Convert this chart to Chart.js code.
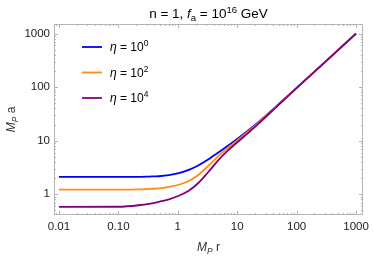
<!DOCTYPE html>
<html><head><meta charset="utf-8">
<script src="https://cdn.jsdelivr.net/npm/chart.js@4"></script>
<style>html,body{margin:0;padding:0;background:#fff}#wrap{width:374px;height:258px;position:relative}</style>
</head><body><div id="wrap"><canvas id="c" width="374" height="258"></canvas></div>
<script>
// Data
const rValues   = [0.01, 0.1, 0.22, 0.33, 0.48, 0.71, 1.04, 1.53, 2.24, 3.29, 4.82, 7.08, 10.4, 15.3, 22.4, 48.3, 104, 331, 1000];
const aEta1     = [2.106, 2.106, 2.115, 2.142, 2.17, 2.265, 2.469, 2.846, 3.484, 4.51, 6.017, 8.135, 11.14, 15.51, 21.89, 46.48, 100.9, 325, 1000];
const aEta100   = [1.224, 1.224, 1.235, 1.262, 1.284, 1.369, 1.505, 1.765, 2.315, 3.41, 5.132, 7.398, 10.44, 14.86, 21.24, 45.68, 100, 323.7, 1000];
const aEta10000 = [0.579, 0.584, 0.623, 0.664, 0.724, 0.806, 0.938, 1.163, 1.641, 2.634, 4.32, 6.643, 9.661, 13.99, 20.34, 45.3, 99.6, 322.4, 1000];
const seriesLabels = ['0', '2', '4'];
const xTickValues = [0.01, 0.1, 1, 10, 100, 1000];
const xTickLabels = ['0.01', '0.10', '1', '10', '100', '1000'];
const yTickValues = [1, 10, 100, 1000];
const yTickLabels = ['1', '10', '100', '1000'];

const colors = ['rgb(0,0,255)', 'rgb(255,140,20)', 'rgb(128,0,128)'];
const FONT = '"Liberation Sans", Arial, sans-serif';

function pts(a){ return rValues.map((r,i)=>({x:r,y:a[i]})); }

const decorPlugin = {
  id: 'decor',
  beforeDatasetsDraw(chart){
    const {ctx, chartArea:a, scales:{x, y}} = chart;
    ctx.save();
    ctx.strokeStyle = '#b4b4b4';
    ctx.lineWidth = 1;
    const xmin = x.min, xmax = x.max, ymin = y.min, ymax = y.max;
    for (let e = -3; e <= 4; e++) {
      for (let m = 1; m <= 9; m++) {
        const v = m * Math.pow(10, e);
        if (v >= xmin && v <= xmax) {
          const px = Math.round(x.getPixelForValue(v)) + 0.5;
          const len = m === 1 ? 4 : 2;
          ctx.beginPath();
          ctx.moveTo(px, a.bottom); ctx.lineTo(px, a.bottom - len);
          ctx.moveTo(px, a.top); ctx.lineTo(px, a.top + len);
          ctx.stroke();
        }
        if (v >= ymin && v <= ymax) {
          const py = Math.round(y.getPixelForValue(v)) + 0.5;
          const len = m === 1 ? 4 : 2;
          ctx.beginPath();
          ctx.moveTo(a.left, py); ctx.lineTo(a.left + len, py);
          ctx.moveTo(a.right, py); ctx.lineTo(a.right - len, py);
          ctx.stroke();
        }
      }
    }
    ctx.strokeRect(Math.round(a.left)+0.5, Math.round(a.top)+0.5, Math.round(a.right-a.left)-1, Math.round(a.bottom-a.top)-1);
    ctx.restore();
  },
  afterDraw(chart){
    const {ctx, chartArea:a} = chart;
    ctx.save();
    ctx.fillStyle = '#000';
    ctx.textBaseline = 'alphabetic';
    // title
    const parts = [
      {t:'n = 1, ', f:'13.5px '+FONT, dy:0},
      {t:'f', f:'italic 13.5px '+FONT, dy:0},
      {t:'a', f:'9.5px '+FONT, dy:3},
      {t:' = 10', f:'13.5px '+FONT, dy:0},
      {t:'16', f:'9.5px '+FONT, dy:-5},
      {t:' GeV', f:'13.5px '+FONT, dy:0}
    ];
    let w = 0;
    parts.forEach(p=>{ctx.font=p.f; w += ctx.measureText(p.t).width;});
    let cx = (a.left + a.right)/2 - w/2;
    parts.forEach(p=>{ctx.font=p.f; ctx.fillText(p.t, cx, 18 + p.dy); cx += ctx.measureText(p.t).width;});

    // legend
    chart.data.datasets.forEach((ds, i)=>{
      const yy = 47 + i*25.5;
      ctx.strokeStyle = ds.borderColor; ctx.lineWidth = 1.8;
      ctx.beginPath(); ctx.moveTo(82, yy); ctx.lineTo(102, yy); ctx.stroke();
      let lx = 110;
      const lp = [
        {t:'\u03B7', f:'italic 12px '+FONT, dy:0},
        {t:' = 10', f:'12px '+FONT, dy:0},
        {t:seriesLabels[i], f:'8.5px '+FONT, dy:-5}
      ];
      lp.forEach(p=>{ctx.font=p.f; ctx.fillStyle='#000'; ctx.fillText(p.t, lx, yy + 4 + p.dy); lx += ctx.measureText(p.t).width;});
    });

    // x axis title
    ctx.fillStyle = '#333';
    const xp = [
      {t:'M', f:'italic 12px '+FONT, dy:0},
      {t:'P', f:'italic 8.5px '+FONT, dy:3},
      {t:' r', f:'12px '+FONT, dy:0}
    ];
    w = 0; xp.forEach(p=>{ctx.font=p.f; w += ctx.measureText(p.t).width;});
    cx = (a.left + a.right)/2 - w/2;
    xp.forEach(p=>{ctx.font=p.f; ctx.fillText(p.t, cx, 251 + p.dy); cx += ctx.measureText(p.t).width;});

    // y axis title
    ctx.translate(15, (a.top + a.bottom)/2);
    ctx.rotate(-Math.PI/2);
    const yp = [
      {t:'M', f:'italic 12px '+FONT, dy:0},
      {t:'P', f:'italic 8.5px '+FONT, dy:3},
      {t:' a', f:'12px '+FONT, dy:0}
    ];
    w = 0; yp.forEach(p=>{ctx.font=p.f; w += ctx.measureText(p.t).width;});
    cx = -w/2;
    yp.forEach(p=>{ctx.font=p.f; ctx.fillText(p.t, cx, 0 + p.dy); cx += ctx.measureText(p.t).width;});
    ctx.restore();
  }
};

const datasets = [aEta1, aEta100, aEta10000].map((arr, i)=>({
  label: 'eta = 10^' + seriesLabels[i],
  data: pts(arr),
  borderColor: colors[i],
  borderWidth: 1.8,
  pointRadius: 0,
  fill: false,
  cubicInterpolationMode: 'monotone',
  order: 3 - i
}));

new Chart(document.getElementById('c'), {
  type: 'line',
  data: { datasets },
  plugins: [decorPlugin],
  options: {
    responsive: false,
    animation: false,
    devicePixelRatio: 1,
    layout: { padding: { left: 0, right: 8, top: 24, bottom: 0 } },
    plugins: { legend: { display: false }, tooltip: { enabled: false }, title: { display: false } },
    scales: {
      x: {
        type: 'logarithmic',
        min: Math.pow(10, -2.083), max: Math.pow(10, 3.117),
        grid: { display: false, drawTicks: false },
        border: { display: false },
        afterBuildTicks(s){ s.ticks = xTickValues.map(v=>({value:v})); },
        afterFit(s){ s.height = 43; },
        ticks: {
          autoSkip: false, maxRotation: 0, padding: 5,
          color: '#222', font: { family: FONT, size: 11.5 },
          callback(v){ const i = xTickValues.findIndex(t=>Math.abs(t-v)/t<1e-6); return i>=0 ? xTickLabels[i] : ''; }
        }
      },
      y: {
        type: 'logarithmic',
        min: 0.41, max: Math.pow(10, 3.178),
        grid: { display: false, drawTicks: false },
        border: { display: false },
        afterBuildTicks(s){ s.ticks = yTickValues.map(v=>({value:v})); },
        afterFit(s){ s.width = 54; },
        ticks: {
          autoSkip: false, padding: 4,
          color: '#222', font: { family: FONT, size: 11.5 },
          callback(v){ const i = yTickValues.findIndex(t=>Math.abs(t-v)/t<1e-6); return i>=0 ? yTickLabels[i] : ''; }
        }
      }
    }
  }
});
</script></body></html>
